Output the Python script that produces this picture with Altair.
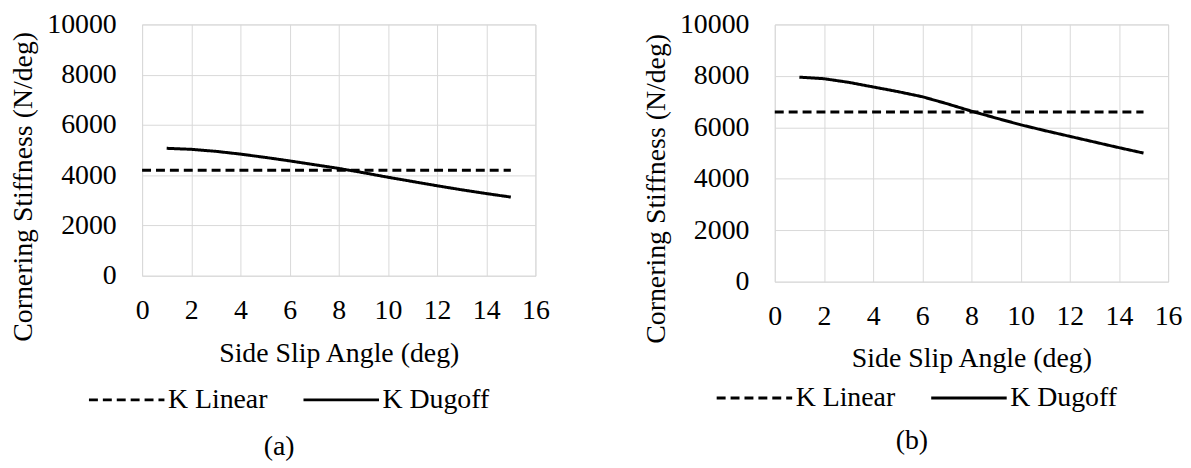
import altair as alt
import pandas as pd

# ---- data ----
slip_linear = [0, 1, 2, 3, 4, 5, 6, 7, 8, 9, 10, 11, 12, 13, 14, 15]
slip_dugoff = [1, 2, 3, 4, 5, 6, 7, 8, 9, 10, 11, 12, 13, 14, 15]

k_linear_a = [4200, 4200, 4200, 4200, 4200, 4200, 4200, 4200,
              4200, 4200, 4200, 4200, 4200, 4200, 4200, 4200]
k_dugoff_a = [5070, 5030, 4950, 4840, 4710, 4570, 4420, 4270,
              4100, 3920, 3750, 3580, 3420, 3270, 3130]

k_linear_b = [6600, 6600, 6600, 6600, 6600, 6600, 6600, 6600,
              6600, 6600, 6600, 6600, 6600, 6600, 6600, 6600]
k_dugoff_b = [7950, 7890, 7750, 7570, 7390, 7190, 6920, 6630,
              6360, 6100, 5870, 5650, 5430, 5210, 5000]

series_names = ["K Linear", "K Dugoff"]
x_ticks = [0, 2, 4, 6, 8, 10, 12, 14, 16]
y_ticks = [0, 2000, 4000, 6000, 8000, 10000]

FONT = "Liberation Serif, Times New Roman, serif"
FS = 28


def make_df(lin, dug):
    rows = []
    for s, k in zip(slip_linear, lin):
        rows.append({"slip": s, "k": k, "series": series_names[0]})
    for s, k in zip(slip_dugoff, dug):
        rows.append({"slip": s, "k": k, "series": series_names[1]})
    return pd.DataFrame(rows)


def panel(df, h, caption, legend_x, legend_y, title_y, xtitle_y,
          cap_offset, cap_dx):
    return alt.Chart(df).mark_line(strokeWidth=3, color="black").encode(
        x=alt.X("slip:Q",
                scale=alt.Scale(domain=[0, 16], nice=False, zero=False),
                axis=alt.Axis(values=x_ticks, title="Side Slip Angle (deg)",
                              labelBaseline="middle", labelPadding=35,
                              labelFlush=False, labelFont=FONT,
                              titleFont=FONT,
                              titleY=xtitle_y, titleBaseline="middle")),
        y=alt.Y("k:Q",
                scale=alt.Scale(domain=[0, 10000], nice=False),
                axis=alt.Axis(values=y_ticks, format="d",
                              title="Cornering Stiffness (N/deg)",
                              labelPadding=26, labelFont=FONT,
                              titleFont=FONT,
                              titleX=-105, titleY=title_y,
                              titleBaseline="bottom", titleAlign="center")),
        strokeDash=alt.StrokeDash(
            "series:N",
            scale=alt.Scale(domain=series_names, range=[[9, 5], [1, 0]]),
            legend=alt.Legend(title=None, orient="none",
                              legendX=legend_x, legendY=legend_y,
                              direction="horizontal",
                              symbolType="stroke", symbolSize=5776,
                              symbolStrokeWidth=3, symbolStrokeColor="black",
                              clipHeight=28, labelFont=FONT,
                              labelFontSize=FS, labelColor="black",
                              labelOffset=2, columnPadding=34, padding=0)),
    ).properties(
        width=396, height=h,
        title=alt.TitleParams(caption, orient="bottom", font=FONT,
                              fontSize=FS, fontWeight="normal",
                              color="black", offset=cap_offset, dx=cap_dx),
    )


pa = panel(make_df(k_linear_a, k_dugoff_a), 253, "(a)",
           -55, 364, 163, 78, 19, -60)
pb = panel(make_df(k_linear_b, k_dugoff_b), 259, "(b)",
           -60, 362, 165, 77, 15, -60)

chart = alt.hconcat(pa, pb, spacing=92).resolve_legend(
    strokeDash="independent"
).resolve_scale(
    strokeDash="independent"
).properties(
    padding={"left": 1, "top": 0, "right": 0, "bottom": 0}
).configure(
    font=FONT
).configure_view(
    stroke="#d9d9d9", strokeWidth=1
).configure_axis(
    grid=True, gridColor="#d9d9d9", gridWidth=1,
    domain=False, ticks=False, tickSize=0,
    labelFont=FONT, labelFontSize=FS, labelColor="black",
    titleFont=FONT, titleFontSize=FS, titleColor="black",
    titleFontWeight="normal",
).configure_legend(
    labelFont=FONT
)

chart.save("out.html", embed_options={"renderer": "svg", "actions": False})
